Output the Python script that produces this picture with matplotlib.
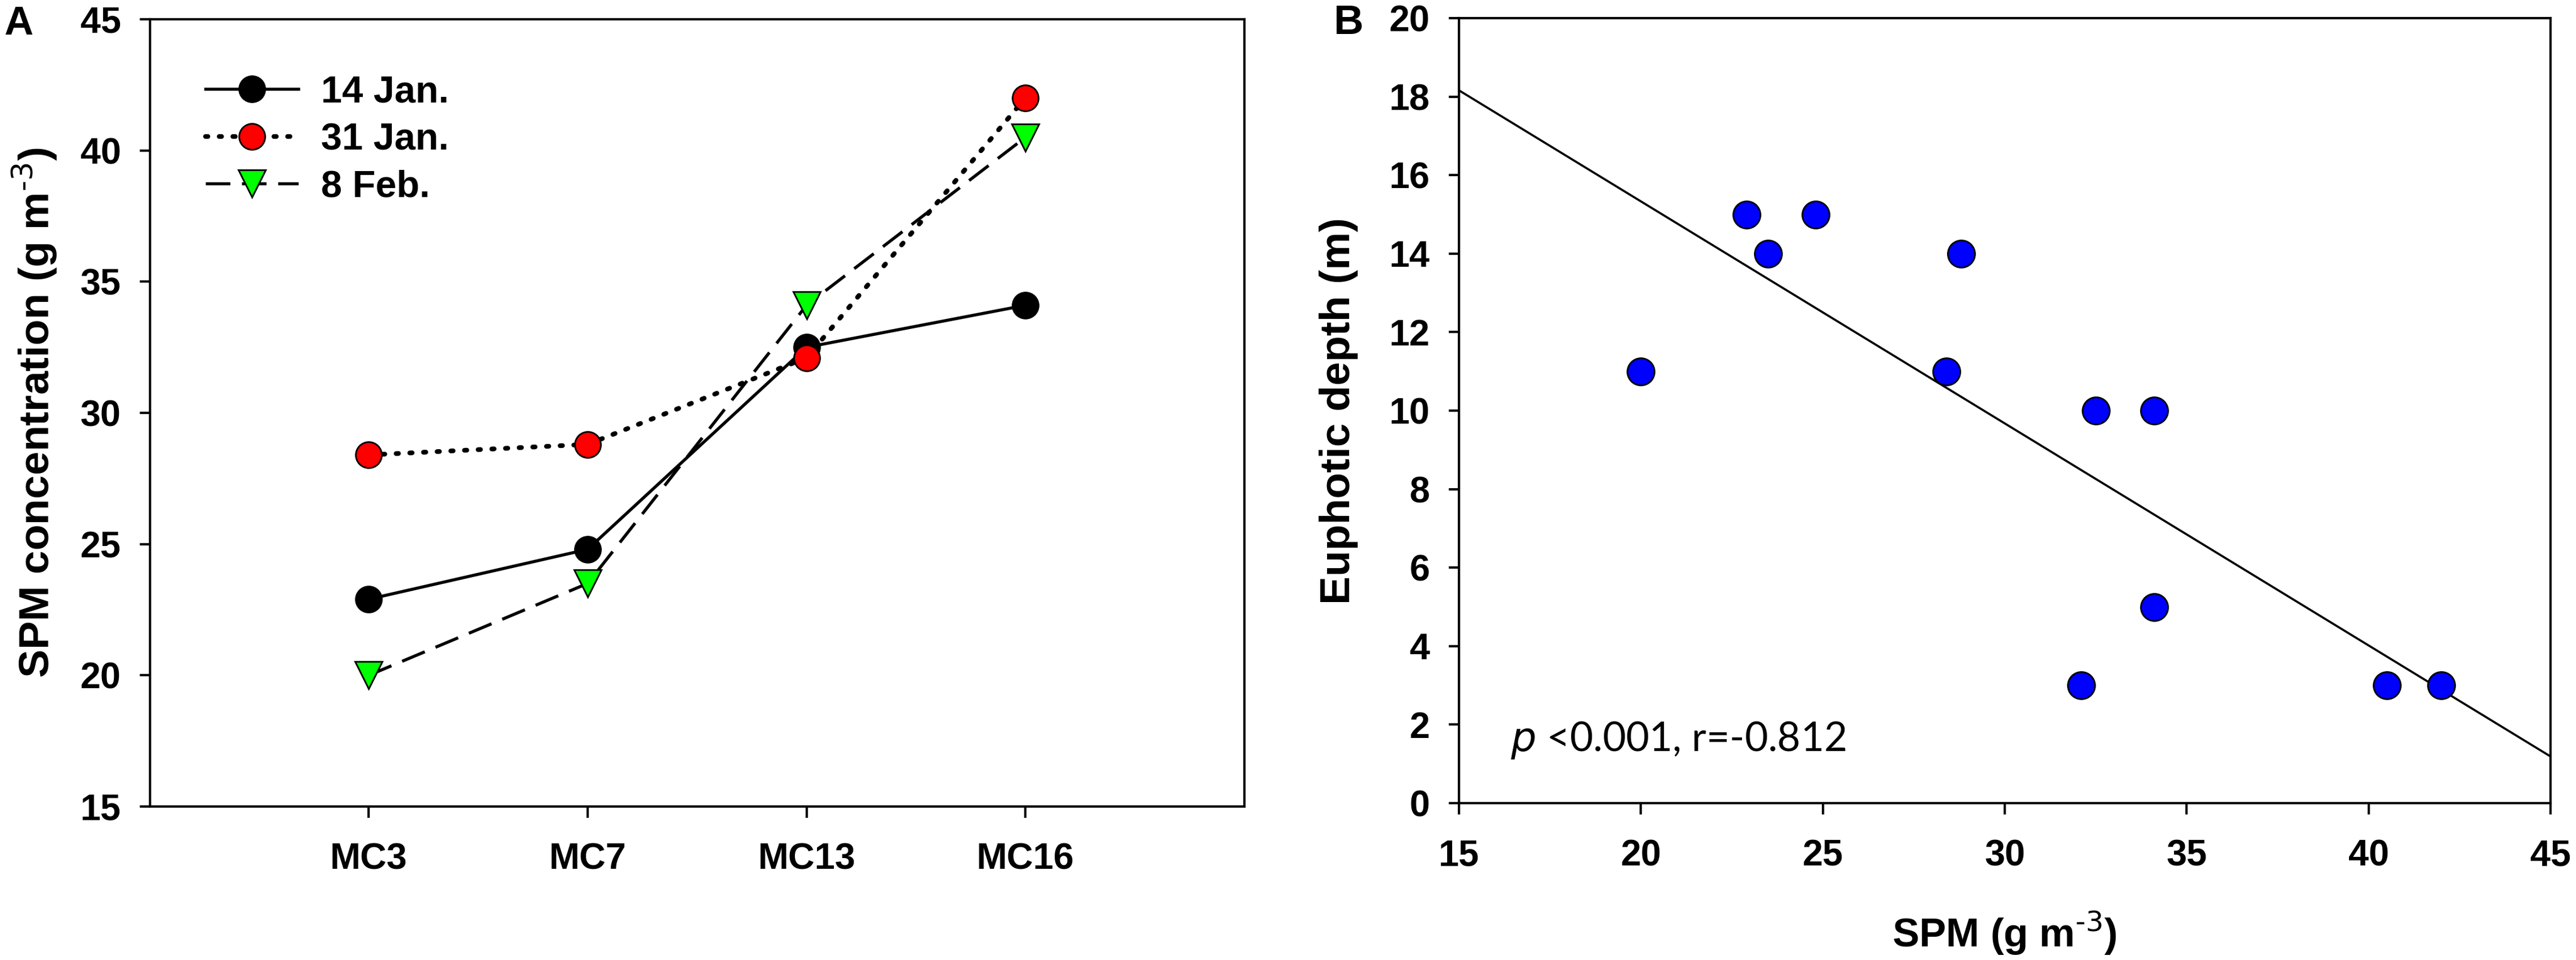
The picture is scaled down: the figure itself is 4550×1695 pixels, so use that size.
import numpy as np
from matplotlib import pyplot as plt

# Panel A: SPM concentration at stations for three sampling dates
stations = ["MC3", "MC7", "MC13", "MC16"]
jan14 = [22.9, 24.8, 32.5, 34.1]
jan31 = [28.4, 28.8, 32.1, 42.0]
feb08 = [20.0, 23.5, 34.1, 40.5]

# Panel B: euphotic depth vs SPM
spm = [20.0, 22.9, 23.5, 24.8, 28.4, 28.8, 32.5, 34.1, 34.1, 32.1, 40.5, 42.0]
zeu = [11, 15, 14, 15, 11, 14, 10, 10, 5, 3, 3, 3]

bold_font = ["Liberation Sans", "DejaVu Sans"]

plt.rcParams["axes.linewidth"] = 1.0
plt.rcParams["xtick.major.width"] = 1.0
plt.rcParams["ytick.major.width"] = 1.0
plt.rcParams["xtick.major.size"] = 4.8
plt.rcParams["ytick.major.size"] = 4.3

fig = plt.figure(figsize=(4550 / 300, 1695 / 300), dpi=300)
axA = fig.add_axes([0.0582, 0.1599, 0.4248, 0.8200])
axB = fig.add_axes([0.5664, 0.1634, 0.4237, 0.8177])

x = np.arange(1, len(stations) + 1)
axA.plot(x, jan14, "-", color="black", lw=1.3, marker="o", ms=11,
         mfc="black", mec="black", mew=0.7, label="14 Jan.")
axA.plot(x, jan31, color="black", lw=2.0, dashes=(0.5, 2.4), dash_capstyle="round",
         marker="o", ms=11, mfc="#ff0000", mec="black", mew=0.7, label="31 Jan.")
axA.plot(x, feb08, color="black", lw=1.3, dashes=(8, 3.8), marker="v", ms=11.5,
         mfc="#00ff00", mec="black", mew=0.7, label="8 Feb.")

axA.set_xlim(0, 5)
axA.set_ylim(15, 45)
axA.set_xticks(x)
axA.set_xticklabels(stations)
axA.set_yticks(range(15, 46, 5))
axA.set_ylabel("SPM concentration (g m$^{\\mathregular{\\text{-3}}}$)", family=bold_font,
               fontweight="bold", fontsize=18, va="center")
axA.yaxis.set_label_coords(-0.1055, 0.5)

axA.legend(loc="upper left", bbox_to_anchor=(0.051, 0.929), frameon=False,
           handlelength=2.46, handletextpad=0.6, labelspacing=0.32,
           borderpad=0, borderaxespad=0,
           prop={"family": bold_font, "weight": "bold", "size": 16})

# regression line across the full x range
slope, intercept = np.polyfit(spm, zeu, 1)
xl = np.array([15, 45])
axB.plot(xl, intercept + slope * xl, "-", color="black", lw=0.9)
axB.plot(spm, zeu, "o", ls="none", ms=11.5, mfc="#0000ff", mec="black", mew=0.7)

axB.set_xlim(15, 45)
axB.set_ylim(0, 20)
axB.set_xticks(range(15, 46, 5))
axB.set_yticks(range(0, 21, 2))
axB.set_xlabel("SPM (g m$^{\\mathregular{\\text{-3}}}$)", family=bold_font,
               fontweight="bold", fontsize=17, va="baseline")
axB.xaxis.set_label_coords(0.5, -0.183)
axB.set_ylabel("Euphotic depth (m)", family=bold_font, fontweight="bold",
               fontsize=18, va="center")
axB.yaxis.set_label_coords(-0.1105, 0.5)
axB.text(16.42, 1.6, "$\\mathit{p}$ <0.001, r=-0.812", family=["Lato", "DejaVu Sans"],
         fontsize=17, va="center", ha="left")

for ax in (axA, axB):
    ax.tick_params(axis="y", direction="out", right=False, pad=8)
    ax.tick_params(axis="x", direction="out", top=False, pad=10.5)
    for lab in ax.get_xticklabels() + ax.get_yticklabels():
        lab.set_family(bold_font)
        lab.set_fontweight("bold")
        lab.set_fontsize(15.5)

fig.text(0.0015, 0.994, "A", family=bold_font, fontweight="bold", fontsize=17,
         va="top", ha="left")
fig.text(0.5175, 0.996, "B", family=bold_font, fontweight="bold", fontsize=17.5,
         va="top", ha="left")

fig.savefig("out.png", dpi=300)
